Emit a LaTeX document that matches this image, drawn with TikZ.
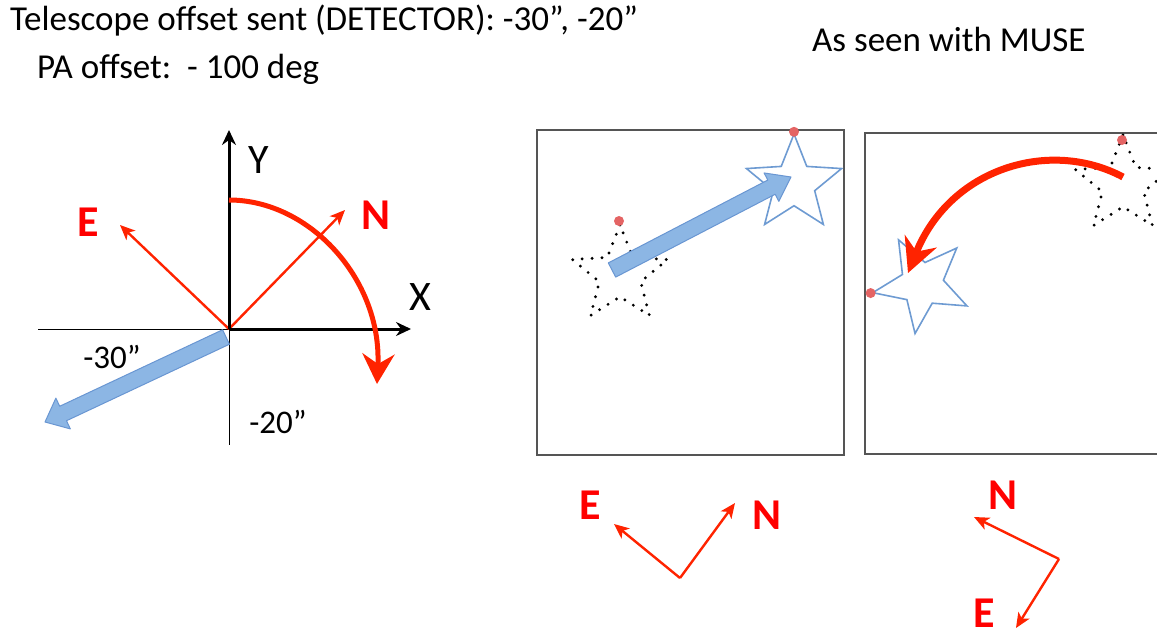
\documentclass[tikz,border=0pt]{standalone}
\usepackage{fontspec}
\setmainfont{Carlito}
\usetikzlibrary{calc,arrows.meta,shapes.geometric}
\definecolor{arrred}{RGB}{255,35,0}
\definecolor{labred}{RGB}{255,0,0}
\definecolor{bluefill}{RGB}{140,182,228}
\definecolor{blueedge}{RGB}{105,150,210}
\definecolor{staredge}{RGB}{110,155,210}
\definecolor{dotred}{RGB}{228,100,100}
\definecolor{boxgray}{RGB}{85,85,85}
\newcommand\fatarrow[6]{%
  \coordinate (#1h) at ($(#2)!#5!(#1)$);
  \draw[#6] ($(#1)!#3!90:(#2)$) -- ($(#1h)!#3!90:(#2)$) -- ($(#1h)!#4!90:(#2)$) -- (#2)
    -- ($(#1h)!#4!-90:(#2)$) -- ($(#1h)!#3!-90:(#2)$) -- ($(#1)!#3!-90:(#2)$) -- cycle;}
\tikzset{
  hdr/.style={font=\fontsize{35}{42}\selectfont, inner sep=0pt},
  axlab/.style={font=\fontsize{42}{50}\selectfont, inner sep=0pt},
  offlab/.style={font=\fontsize{33}{40}\selectfont, inner sep=0pt},
  dirlab/.style={font=\fontsize{44}{52}\selectfont\bfseries, text=labred, inner sep=0pt},
  axis/.style={line width=3pt, -{Stealth[length=15pt,width=14pt,inset=5pt]}},
  thinline/.style={line width=1pt},
  redarrow/.style={draw=arrred, line width=2.4pt, -{Stealth[length=15pt,width=13pt,inset=4pt]}},
  fatblue/.style={fill=bluefill, draw=blueedge, line width=1pt, line join=round},
  panel/.style={draw=boxgray, line width=2pt},
  bluestar/.style={star, star points=5, star point ratio=2.3, minimum size=100pt, inner sep=0pt, draw=staredge, line width=1.6pt, fill=white},
  dotstar/.style={star, star points=5, star point ratio=2.3, minimum size=100pt, inner sep=0pt, draw=black, line width=3.2pt, dash pattern=on 0pt off 10pt, line cap=round},
  reddot/.style={circle, fill=dotred, minimum size=10pt, inner sep=0pt},
}
\begin{document}
\begin{tikzpicture}[x=1pt,y=1pt]
\useasboundingbox (0,0) rectangle (1157,-640);
% header
\node[hdr, anchor=base west] (t1) at (10,-30) {Telescope offset sent (DETECTOR): -30”, -20”};
\node[hdr, anchor=base west] (t2) at (37,-78) {PA offset:\ \ - 100 deg};
\node[hdr, anchor=base west] (t3) at (812,-51) {As seen with MUSE};
% left diagram
\coordinate (O) at (229,-329);
\coordinate (Ytip) at (229,-130);
\coordinate (Xtip) at (411,-329);
\coordinate (Lend) at (38,-329);
\coordinate (Dend) at (229,-445);
\draw[thinline] (Lend) -- (O) -- (Dend);
\coordinate (Etip) at (120,-225);
\coordinate (Ntip) at (345,-210);
\draw[redarrow] (O) -- (Etip);
\draw[redarrow] (O) -- (Ntip);
\draw[axis] (O) -- (Ytip);
\draw[axis] (O) -- (Xtip);
\node[axlab] (Ylab) at (259,-160) {Y};
\node[axlab] (Xlab) at (420,-297) {X};
\node[dirlab] (Elab) at (88,-222) {E};
\node[dirlab] (Nlab) at (376,-215) {N};
\coordinate (arcS) at (229,-200);
\coordinate (arcE) at (377,-384);
\draw[draw=arrred, line width=5pt, -{Stealth[length=30pt,width=32pt,inset=10pt]}] (arcS) .. controls (310,-200) and (382,-280) .. (arcE);
\coordinate (bA) at (226,-337);
\coordinate (bB) at (45,-422);
\fatarrow{bA}{bB}{8pt}{17pt}{20pt}{fatblue}
\node[offlab] (m30) at (112,-357) {-30”};
\node[offlab] (m20) at (278,-422) {-20”};
% panel 1
\node[panel, minimum width=307pt, minimum height=325pt, anchor=north west] (box1) at (536,-129) {};
\node[dotstar] (s1) at (620,-275) {};
\node[reddot] (d1) at (619,-221) {};
\node[bluestar] (s2) at (794,-184) {};
\node[reddot] (d2) at (s2.outer point 1) {};
\coordinate (aA) at (612,-270);
\coordinate (aB) at (791,-177);
\fatarrow{aA}{aB}{8pt}{16pt}{22pt}{fatblue}
% panel 2
\coordinate (p2a) at (1160,-133);
\coordinate (p2b) at (865,-133);
\coordinate (p2c) at (865,-454);
\coordinate (p2d) at (1160,-454);
\draw[panel] (p2a) -- (p2b) -- (p2c) -- (p2d);
\node[dotstar] (s3) at (1123,-185) {};
\node[reddot] (d3) at (1122,-140) {};
\node[bluestar, rotate=100] (s4) at (922,-284) {};
\node[reddot] (d4) at (s4.outer point 1) {};
\coordinate (cS) at (1123,-177);
\coordinate (cE) at (908,-273);
\draw[draw=arrred, line width=7pt, -{Stealth[length=34pt,width=34pt,inset=11pt]}] (cS) .. controls (1050,-138) and (950,-168) .. (cE);
% compass 1
\coordinate (c1v) at (680,-578);
\coordinate (c1e) at (614,-524);
\coordinate (c1n) at (735,-503);
\draw[redarrow] (c1v) -- (c1e);
\draw[redarrow] (c1v) -- (c1n);
\node[dirlab] (c1El) at (590,-505) {E};
\node[dirlab] (c1Nl) at (767,-515) {N};
% compass 2
\coordinate (c2v) at (1059,-559);
\coordinate (c2n) at (974,-517);
\coordinate (c2e) at (1016,-628);
\draw[redarrow] (c2v) -- (c2n);
\draw[redarrow] (c2v) -- (c2e);
\node[dirlab] (c2Nl) at (1003,-495) {N};
\node[dirlab] (c2El) at (984,-613) {E};
\end{tikzpicture}
\end{document}
